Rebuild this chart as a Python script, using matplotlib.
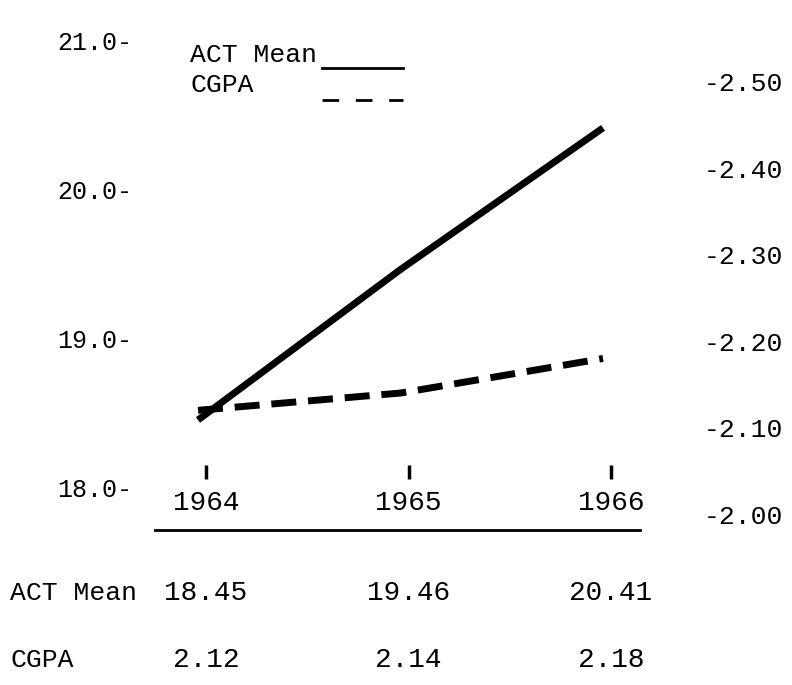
import matplotlib.pyplot as plt
import matplotlib.transforms as mtransforms
from matplotlib.lines import Line2D

years = [1964, 1965, 1966]
act_mean = [18.45, 19.46, 20.41]
cgpa = [2.12, 2.14, 2.18]

left_ticks = [18.0, 19.0, 20.0, 21.0]
right_ticks = [2.00, 2.10, 2.20, 2.30, 2.40, 2.50]

W, H = 792, 685
font = 'Liberation Mono'
fs = 19

fig = plt.figure(figsize=(W / 100, H / 100), dpi=100)
ax = fig.add_axes([150 / W, (H - 514) / H, 500 / W, 474 / H])
ax2 = ax.twinx()

ax.set_xlim(1963.763, 1966.232)
ax.set_ylim(17.819, 21.0)
ax2.set_ylim(2.00, 2.5486)

for a in (ax, ax2):
    for s in a.spines.values():
        s.set_visible(False)
    a.set_xticks([])

ax.set_yticks(left_ticks, labels=['%.1f-' % v for v in left_ticks])
ax.tick_params(axis='y', length=0, pad=13, labelsize=18)
ax2.set_yticks(right_ticks, labels=['-%.2f' % v for v in right_ticks])
ax2.tick_params(axis='y', length=0, pad=39, labelsize=fs)
for lab in ax.get_yticklabels() + ax2.get_yticklabels():
    lab.set_fontfamily(font)

# the two series
ax.plot(years, act_mean, color='black', lw=5, solid_capstyle='butt',
        solid_joinstyle='round')
ax2.plot(years, cgpa, color='black', lw=5, dashes=(3.6, 1.7),
         dash_capstyle='butt')

# legend, typed in the top left
fig.text(190 / W, 1 - 55 / H, 'ACT Mean', family=font, fontsize=fs, va='center')
fig.text(190 / W, 1 - 85 / H, 'CGPA', family=font, fontsize=fs, va='center')
fig.add_artist(Line2D([322 / W, 403 / W], [1 - 68 / H, 1 - 68 / H],
                      color='black', lw=2))
fig.add_artist(Line2D([322 / W, 403 / W], [1 - 100 / H, 1 - 100 / H],
                      color='black', lw=2, dashes=(6, 6)))

# year marks and table underneath
xt = mtransforms.blended_transform_factory(ax.transData, fig.transFigure)
xt = mtransforms.offset_copy(xt, fig=fig, x=8, units='dots')
ax.plot(years, [1 - 472 / H] * 3, transform=xt, ls='none', marker='|',
        ms=10, mew=2.5, color='black', clip_on=False)
for yr, a, c in zip(years, act_mean, cgpa):
    fig.text(yr, 1 - 503 / H, str(yr), transform=xt, family=font,
             fontsize=20, ha='center', va='center')
    fig.text(yr, 1 - 593 / H, '%.2f' % a, transform=xt, family=font,
             fontsize=20, ha='center', va='center')
    fig.text(yr, 1 - 660 / H, '%.2f' % c, transform=xt, family=font,
             fontsize=20, ha='center', va='center')

fig.add_artist(Line2D([155 / W, 640 / W], [1 - 530 / H, 1 - 530 / H],
                      color='black', lw=2))
fig.text(10 / W, 1 - 593 / H, 'ACT Mean', family=font, fontsize=fs, va='center')
fig.text(10 / W, 1 - 660 / H, 'CGPA', family=font, fontsize=fs, va='center')

fig.savefig('out.png', dpi=100)
